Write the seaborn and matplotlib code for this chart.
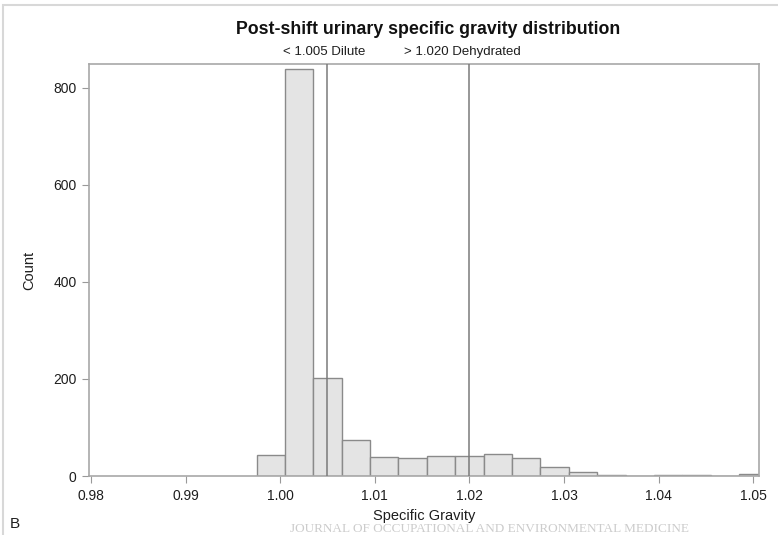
import numpy as np
import pandas as pd
import matplotlib
matplotlib.use("Agg")
import matplotlib.pyplot as plt
import seaborn as sns
from matplotlib.patches import Rectangle

# ---- data ----
bin_edges = [0.9975, 1.0005, 1.0035, 1.0065, 1.0095, 1.0125, 1.0155, 1.0185,
             1.0215, 1.0245, 1.0275, 1.0305, 1.0335, 1.0365, 1.0395, 1.0425,
             1.0455, 1.0485, 1.0515]
bin_counts = [44, 838, 201, 74, 40, 38, 42, 42, 45, 38, 18, 8, 3, 1, 3, 3, 0, 4]
x_ticks = [0.98, 0.99, 1.00, 1.01, 1.02, 1.03, 1.04, 1.05]
x_tick_labels = ["0.98", "0.99", "1.00", "1.01", "1.02", "1.03", "1.04", "1.05"]
y_ticks = [0, 200, 400, 600, 800]
ref_lines = [1.005, 1.020]
ref_labels = ["< 1.005 Dilute", "> 1.020 Dehydrated"]
title = "Post-shift urinary specific gravity distribution"

centers = [(a + b) / 2 for a, b in zip(bin_edges[:-1], bin_edges[1:])]
df = pd.DataFrame({"sg": centers, "count": bin_counts})

sns.set_theme(style="white")
plt.rcParams["font.family"] = ["Liberation Sans", "DejaVu Sans"]

W, H = 778, 535
fig = plt.figure(figsize=(W / 100, H / 100), dpi=100)
ax = fig.add_axes([89 / W, 1 - 476 / H, (759 - 89) / W, (476 - 64) / H])

sns.histplot(data=df, x="sg", weights="count", bins=bin_edges, ax=ax,
             color="#e4e4e4", edgecolor="#8a8a8a", linewidth=1.0, alpha=1.0)

for v in ref_lines:
    ax.axvline(v, color="#7a7a7a", linewidth=1.1, zorder=3)

ax.set_xlim(0.9798, 1.0506)
ax.set_ylim(0, 849)
ax.set_xticks(x_ticks)
ax.set_xticklabels(x_tick_labels)
ax.set_yticks(y_ticks)
ax.tick_params(axis="both", which="major", length=5, width=0.8,
               color="#999999", labelsize=10, labelcolor="#1e1e1e",
               bottom=True, left=True, pad=4)
for s in ax.spines.values():
    s.set_color("#a8a8a8")
    s.set_linewidth(1.2)

ax.set_xlabel("Specific Gravity", fontsize=10.5, color="#1e1e1e", labelpad=5)
ax.set_ylabel("Count", fontsize=10.5, color="#1e1e1e", labelpad=12)

# title and subtitle
fig.text(428 / W, 1 - 30 / H, title, ha="center", va="center",
         fontsize=12.8, fontweight="bold", color="#111111")
fig.text(283 / W, 1 - 52 / H, ref_labels[0], ha="left", va="center",
         fontsize=9.5, color="#1e1e1e")
fig.text(404 / W, 1 - 52 / H, ref_labels[1], ha="left", va="center",
         fontsize=9.5, color="#1e1e1e")

# panel letter and watermark
fig.text(10 / W, 1 - 524 / H, "B", ha="left", va="center", fontsize=11,
         color="#1e1e1e")
fig.text(290 / W, 1 - 534.5 / H,
         "JOURNAL OF OCCUPATIONAL AND ENVIRONMENTAL MEDICINE",
         ha="left", va="bottom", fontsize=9.5, color="#cccccc",
         family=["Liberation Serif", "DejaVu Serif"])

# outer frame
fig.patches.append(Rectangle((3 / W, -0.1), 1.2, 1 - 5 / H + 0.1,
                             transform=fig.transFigure, fill=False,
                             edgecolor="#d8d8d8", linewidth=1.5))

fig.savefig("out.png", dpi=100)
